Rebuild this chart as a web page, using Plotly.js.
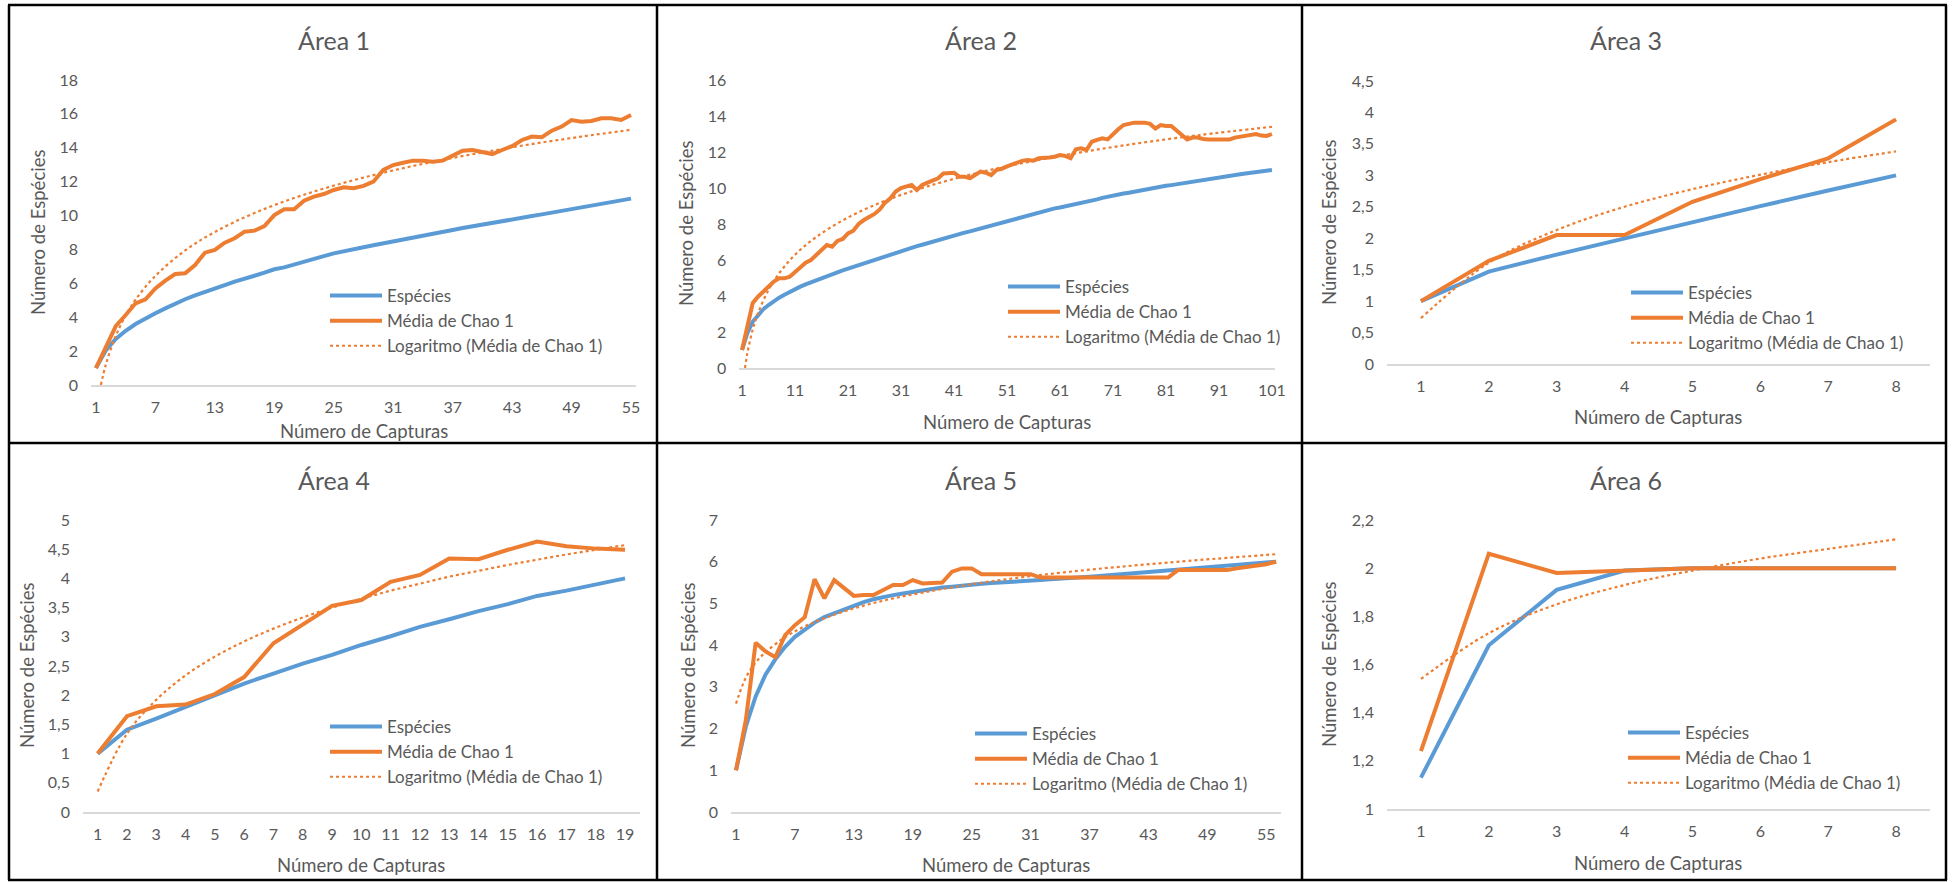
<!DOCTYPE html>
<html><head><meta charset="utf-8">
<script src="https://cdn.plot.ly/plotly-3.0.1.min.js"></script>
<style>html,body{margin:0;padding:0;background:#fff;}#chart{width:1952px;height:882px;}</style>
</head><body><div id="chart"></div>
<script>
// ---------------- DATA ----------------
const seriesNames = ['Espécies', 'Média de Chao 1', 'Logaritmo (Média de Chao 1)'];
const chartTitles = ['Área 1', 'Área 2', 'Área 3', 'Área 4', 'Área 5', 'Área 6'];
const xTitle = 'Número de Capturas';
const yTitle = 'Número de Espécies';

// Área 1
const area1Capturas = [1,2,3,4,5,6,7,8,9,10,11,12,13,14,15,16,17,18,19,20,21,22,23,24,25,26,27,28,29,30,31,32,33,34,35,36,37,38,39,40,41,42,43,44,45,46,47,48,49,50,51,52,53,54,55];
const area1Especies = [1.00,2.05,2.72,3.20,3.60,3.93,4.23,4.52,4.82,5.06,5.29,5.51,5.70,5.90,6.10,6.30,6.45,6.63,6.83,6.94,7.12,7.28,7.46,7.61,7.77,7.91,8.02,8.13,8.25,8.37,8.49,8.60,8.71,8.82,8.93,9.04,9.15,9.26,9.37,9.47,9.57,9.67,9.77,9.87,9.97,10.07,10.17,10.27,10.37,10.47,10.57,10.67,10.77,10.88,11.00];
const area1Chao = [1.00,2.30,3.48,4.13,4.82,5.06,5.70,6.16,6.55,6.59,7.08,7.81,7.97,8.40,8.66,9.05,9.11,9.38,10.03,10.37,10.37,10.88,11.12,11.27,11.51,11.67,11.61,11.75,12.00,12.69,12.98,13.12,13.24,13.24,13.18,13.24,13.52,13.83,13.87,13.77,13.63,13.87,14.10,14.46,14.66,14.62,15.01,15.25,15.64,15.54,15.58,15.74,15.74,15.64,15.94];
const area1LogX = [1.5,2,3,4,5,7,10,13,17,22,28,35,43,50,55];
const area1LogY = [0.00,1.21,2.90,4.10,5.04,6.44,7.94,9.03,10.15,11.23,12.24,13.17,14.03,14.66,15.06];

// Área 2
const area2Capturas = [1,2,3,4,5,6,7,8,9,10,11,12,13,14,15,16,17,18,19,20,21,22,23,24,25,26,27,28,29,30,31,32,33,34,35,36,37,38,39,40,41,42,43,44,45,46,47,48,49,50,51,52,53,54,55,56,57,58,59,60,61,62,63,64,65,66,67,68,69,70,71,72,73,74,75,76,77,78,79,80,81,82,83,84,85,86,87,88,89,90,91,92,93,94,95,96,97,98,99,100,101];
const area2Especies = [1.00,1.93,2.57,2.94,3.26,3.50,3.72,3.91,4.07,4.24,4.39,4.52,4.65,4.77,4.89,5.00,5.11,5.21,5.31,5.42,5.52,5.61,5.70,5.81,5.91,6.00,6.09,6.18,6.28,6.39,6.50,6.60,6.69,6.77,6.85,6.94,7.02,7.11,7.19,7.27,7.35,7.44,7.52,7.59,7.67,7.76,7.85,7.95,8.04,8.12,8.20,8.27,8.35,8.43,8.50,8.58,8.65,8.73,8.80,8.87,8.92,8.98,9.03,9.09,9.15,9.22,9.30,9.37,9.45,9.52,9.58,9.63,9.69,9.74,9.80,9.85,9.91,9.96,10.02,10.07,10.12,10.16,10.21,10.25,10.30,10.35,10.40,10.44,10.49,10.54,10.58,10.63,10.67,10.72,10.76,10.80,10.84,10.89,10.93,10.97,11.00];
const area2Chao = [1.00,2.30,3.60,3.96,4.24,4.48,4.80,4.98,4.98,5.07,5.35,5.63,5.85,6.00,6.28,6.56,6.83,6.74,7.06,7.17,7.48,7.63,8.00,8.22,8.37,8.56,8.81,9.19,9.43,9.80,10.00,10.10,10.17,9.89,10.17,10.30,10.44,10.54,10.81,10.85,10.85,10.63,10.63,10.54,10.72,10.91,10.85,10.72,11.00,11.07,11.20,11.32,11.41,11.52,11.56,11.52,11.65,11.70,11.70,11.74,11.83,11.78,11.65,12.15,12.20,12.11,12.57,12.67,12.76,12.70,13.00,13.26,13.50,13.56,13.63,13.63,13.63,13.56,13.31,13.50,13.44,13.44,13.22,12.94,12.70,12.80,12.80,12.72,12.70,12.70,12.67,12.67,12.70,12.80,12.85,12.91,12.94,13.00,12.91,12.89,13.00];
const area2LogX = [1.55,2,3,4,6,8,11,15,21,28,36,46,58,72,87,101];
const area2LogY = [0.00,0.82,2.12,3.04,4.34,5.26,6.29,7.28,8.36,9.29,10.09,10.88,11.62,12.32,12.93,13.40];

// Área 3
const area3Capturas = [1,2,3,4,5,6,7,8];
const area3Especies = [1.00,1.47,1.74,2.00,2.26,2.51,2.76,3.00];
const area3Chao = [1.00,1.64,2.05,2.05,2.58,2.94,3.27,3.89];
const area3LogX = [1,2,3,4,5,6,7,8];
const area3LogY = [0.73,1.61,2.13,2.50,2.78,3.01,3.21,3.38];

// Área 4
const area4Capturas = [1,2,3,4,5,6,7,8,9,10,11,12,13,14,15,16,17,18,19];
const area4Especies = [1.00,1.41,1.60,1.80,2.00,2.20,2.37,2.54,2.69,2.86,3.01,3.17,3.30,3.44,3.56,3.70,3.79,3.90,4.00];
const area4Chao = [1.00,1.64,1.81,1.84,2.02,2.31,2.89,3.20,3.53,3.63,3.94,4.06,4.34,4.33,4.49,4.63,4.55,4.51,4.49];
const area4LogX = [1,2,3,4,5,6,7,8,9,10,11,12,13,14,15,16,17,18,19];
const area4LogY = [0.35,1.34,1.92,2.34,2.66,2.92,3.14,3.33,3.50,3.65,3.79,3.91,4.03,4.13,4.23,4.32,4.41,4.49,4.57];

// Área 5
const area5Capturas = [1,2,3,4,5,6,7,8,9,10,11,12,13,14,15,16,17,18,19,20,21,22,23,24,25,26,27,28,29,30,31,32,33,34,35,36,37,38,39,40,41,42,43,44,45,46,47,48,49,50,51,52,53,54,55,56];
const area5Especies = [1.00,2.05,2.77,3.29,3.66,3.96,4.20,4.38,4.54,4.67,4.76,4.86,4.95,5.03,5.10,5.16,5.20,5.24,5.28,5.32,5.35,5.38,5.40,5.43,5.45,5.47,5.49,5.50,5.51,5.53,5.54,5.56,5.58,5.59,5.61,5.63,5.64,5.66,5.68,5.70,5.72,5.74,5.76,5.78,5.80,5.82,5.84,5.86,5.88,5.90,5.91,5.93,5.95,5.97,5.99,6.00];
const area5Chao = [1.00,2.20,4.06,3.85,3.71,4.24,4.48,4.67,5.58,5.12,5.56,5.36,5.18,5.20,5.20,5.32,5.44,5.44,5.56,5.48,5.50,5.50,5.76,5.84,5.84,5.70,5.70,5.70,5.70,5.70,5.70,5.62,5.62,5.62,5.62,5.62,5.62,5.62,5.62,5.62,5.62,5.62,5.62,5.62,5.62,5.80,5.80,5.80,5.80,5.80,5.80,5.84,5.87,5.92,5.94,6.00];
const area5LogX = [1,2,3,4,6,8,11,15,20,27,35,45,56];
const area5LogY = [2.60,3.22,3.58,3.83,4.19,4.45,4.73,5.01,5.26,5.53,5.76,5.98,6.18];

// Área 6
const area6Capturas = [1,2,3,4,5,6,7,8];
const area6Especies = [1.13,1.68,1.91,1.99,2.00,2.00,2.00,2.00];
const area6Chao = [1.24,2.06,1.98,1.99,2.00,2.00,2.00,2.00];
const area6LogX = [1,2,3,4,5,6,7,8];
const area6LogY = [1.54,1.73,1.85,1.93,1.99,2.04,2.08,2.12];

// Tick labels
const area1XTicks = [1,7,13,19,25,31,37,43,49,55];
const area2XTicks = [1,11,21,31,41,51,61,71,81,91,101];
const area3XTicks = [1,2,3,4,5,6,7,8];
const area4XTicks = [1,2,3,4,5,6,7,8,9,10,11,12,13,14,15,16,17,18,19];
const area5XTicks = [1,7,13,19,25,31,37,43,49,55];
const area6XTicks = [1,2,3,4,5,6,7,8];

const area1YTicks = [0,2,4,6,8,10,12,14,16,18];
const area1YLabels = ['0','2','4','6','8','10','12','14','16','18'];
const area2YTicks = [0,2,4,6,8,10,12,14,16];
const area2YLabels = ['0','2','4','6','8','10','12','14','16'];
const area3YTicks = [0,0.5,1,1.5,2,2.5,3,3.5,4,4.5];
const area3YLabels = ['0','0,5','1','1,5','2','2,5','3','3,5','4','4,5'];
const area4YTicks = [0,0.5,1,1.5,2,2.5,3,3.5,4,4.5,5];
const area4YLabels = ['0','0,5','1','1,5','2','2,5','3','3,5','4','4,5','5'];
const area5YTicks = [0,1,2,3,4,5,6,7];
const area5YLabels = ['0','1','2','3','4','5','6','7'];
const area6YTicks = [1,1.2,1.4,1.6,1.8,2,2.2];
const area6YLabels = ['1','1,2','1,4','1,6','1,8','2','2,2'];

// ---------------- LAYOUT ----------------
const W = 1952, H = 882;
const BLUE = '#5B9BD5', ORANGE = '#ED7D31', TXT = '#595959', AXIS = '#D9D9D9';
const FONT = 'Lato, "Open Sans", sans-serif';
const px = v => v / W;
const py = v => 1 - v / H;

const panels = [
  {cap:area1Capturas, sp:area1Especies, ch:area1Chao, lx:area1LogX, ly:area1LogY, xt:area1XTicks, yt:area1YTicks, yl:area1YLabels,
   xr:[0.5,55.5], yr:[0,18], box:[91,636,80,385], title:[334,40], xtl:[364,431], ytl:[38,233], leg:[325,278]},
  {cap:area2Capturas, sp:area2Especies, ch:area2Chao, lx:area2LogX, ly:area2LogY, xt:area2XTicks, yt:area2YTicks, yl:area2YLabels,
   xr:[0.5,101.5], yr:[0,16], box:[739.4,1274.6,80,368], title:[981,40], xtl:[1007,422], ytl:[686,224], leg:[1003,269]},
  {cap:area3Capturas, sp:area3Especies, ch:area3Chao, lx:area3LogX, ly:area3LogY, xt:area3XTicks, yt:area3YTicks, yl:area3YLabels,
   xr:[0.5,8.5], yr:[0,4.5], box:[1387,1930,81,364], title:[1626,40], xtl:[1658,417], ytl:[1329,223], leg:[1626,275]},
  {cap:area4Capturas, sp:area4Especies, ch:area4Chao, lx:area4LogX, ly:area4LogY, xt:area4XTicks, yt:area4YTicks, yl:area4YLabels,
   xr:[0.5,19.5], yr:[0,5], box:[83,639.7,520,812], title:[334,480], xtl:[361,865], ytl:[27,666], leg:[325,709]},
  {cap:area5Capturas, sp:area5Especies, ch:area5Chao, lx:area5LogX, ly:area5LogY, xt:area5XTicks, yt:area5YTicks, yl:area5YLabels,
   xr:[0.5,56.5], yr:[0,7], box:[731.1,1281,520,812], title:[981,480], xtl:[1006,865], ytl:[688,666], leg:[970,716]},
  {cap:area6Capturas, sp:area6Especies, ch:area6Chao, lx:area6LogX, ly:area6LogY, xt:area6XTicks, yt:area6YTicks, yl:area6YLabels,
   xr:[0.5,8.5], yr:[1,2.2], box:[1387,1930,520,809], title:[1626,480], xtl:[1658,863], ytl:[1329,665], leg:[1623,715]}
];

const data = [];
const layout = {
  width: W, height: H,
  margin: {l:0, r:0, t:0, b:0},
  paper_bgcolor: '#ffffff', plot_bgcolor: 'rgba(0,0,0,0)',
  font: {family: FONT, color: TXT, size: 16},
  showlegend: true,
  annotations: [],
  shapes: []
};

panels.forEach((p, i) => {
  const n = i + 1;
  const sfx = n === 1 ? '' : String(n);
  const xa = 'x' + sfx, ya = 'y' + sfx, lg = 'legend' + sfx;
  data.push({x:p.cap, y:p.sp, xaxis:xa, yaxis:ya, legend:lg, name:seriesNames[0], mode:'lines',
             line:{color:BLUE, width:4}, hoverinfo:'x+y'});
  data.push({x:p.cap, y:p.ch, xaxis:xa, yaxis:ya, legend:lg, name:seriesNames[1], mode:'lines',
             line:{color:ORANGE, width:4}, hoverinfo:'x+y'});
  data.push({x:p.lx, y:p.ly, xaxis:xa, yaxis:ya, legend:lg, name:seriesNames[2], mode:'lines',
             line:{color:ORANGE, width:2.2, dash:'dot', shape:'spline'}, hoverinfo:'skip'});

  const b = p.box;
  layout['xaxis' + sfx] = {
    domain:[px(b[0]), px(b[1])], anchor:ya, range:p.xr,
    showline:true, linecolor:AXIS, linewidth:1.5, showgrid:false, zeroline:false,
    ticks:'', tickmode:'array', tickvals:p.xt, ticktext:p.xt.map(String),
    tickfont:{size:16, color:TXT, family:FONT}, ticklabelstandoff:7, fixedrange:true
  };
  layout['yaxis' + sfx] = {
    domain:[py(b[3]), py(b[2])], anchor:xa, range:p.yr,
    showline:false, showgrid:false, zeroline:false,
    ticks:'', tickmode:'array', tickvals:p.yt, ticktext:p.yl,
    tickfont:{size:16, color:TXT, family:FONT}, ticklabelstandoff:12, fixedrange:true
  };
  layout[lg] = {
    x:px(p.leg[0]), y:py(p.leg[1]), xanchor:'left', yanchor:'top',
    bgcolor:'rgba(0,0,0,0)', borderwidth:0, itemwidth:52, traceorder:'normal',
    font:{size:17, color:TXT, family:FONT}
  };
  layout.annotations.push({xref:'paper', yref:'paper', x:px(p.title[0]), y:py(p.title[1]),
    text:chartTitles[i], showarrow:false, xanchor:'center', yanchor:'middle',
    font:{size:25, color:TXT, family:FONT}});
  layout.annotations.push({xref:'paper', yref:'paper', x:px(p.xtl[0]), y:py(p.xtl[1]),
    text:xTitle, showarrow:false, xanchor:'center', yanchor:'middle',
    font:{size:18.5, color:TXT, family:FONT}});
  layout.annotations.push({xref:'paper', yref:'paper', x:px(p.ytl[0]), y:py(p.ytl[1]),
    text:yTitle, showarrow:false, xanchor:'center', yanchor:'middle', textangle:-90,
    font:{size:18.5, color:TXT, family:FONT}});
});

// table borders
const border = (x0, y0, x1, y1) => ({type:'line', xref:'paper', yref:'paper',
  x0:px(x0), y0:py(y0), x1:px(x1), y1:py(y1), line:{color:'#000000', width:2.5}, layer:'above'});
layout.shapes.push(border(8,5,1947,5));
layout.shapes.push(border(8,880,1947,880));
layout.shapes.push(border(9,5,9,880));
layout.shapes.push(border(1946,5,1946,880));
layout.shapes.push(border(657,5,657,880));
layout.shapes.push(border(1302,5,1302,880));
layout.shapes.push(border(8,443,1947,443));

Plotly.newPlot('chart', data, layout, {displayModeBar:false, staticPlot:true});
</script>
</body></html>
